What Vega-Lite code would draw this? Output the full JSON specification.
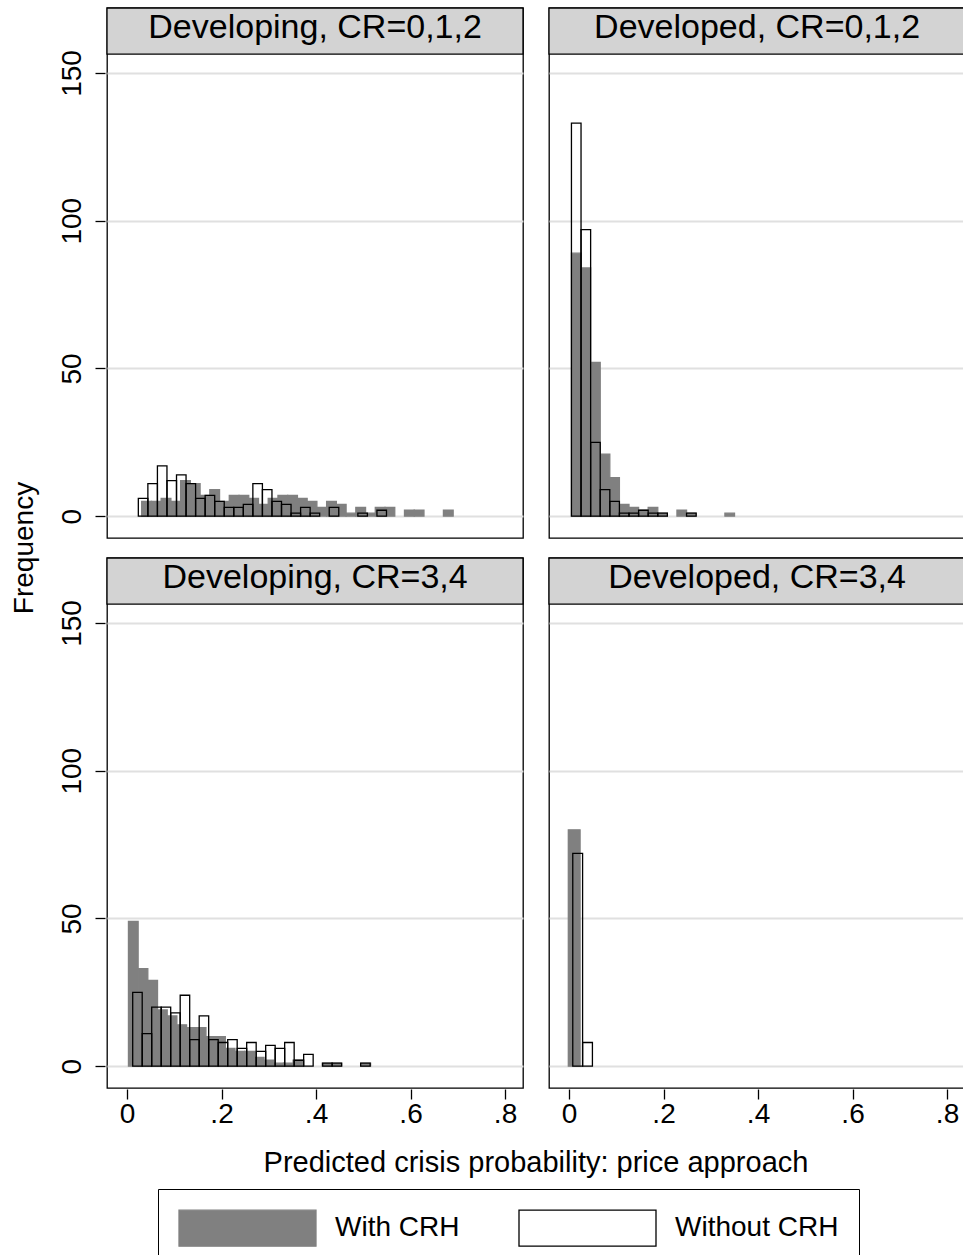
{
  "$schema": "https://vega.github.io/schema/vega-lite/v6.json",
  "background": "white",
  "padding": {"left": 10, "top": 6, "right": 0, "bottom": 0},
  "data": {"values": [
    {"dev":"Developing","cr":"CR=0,1,2","panel":"Developing, CR=0,1,2","series":"With CRH","x0":0.0310,"x1":0.0516,"n":5},
    {"dev":"Developing","cr":"CR=0,1,2","panel":"Developing, CR=0,1,2","series":"With CRH","x0":0.0516,"x1":0.0722,"n":5},
    {"dev":"Developing","cr":"CR=0,1,2","panel":"Developing, CR=0,1,2","series":"With CRH","x0":0.0722,"x1":0.0928,"n":6},
    {"dev":"Developing","cr":"CR=0,1,2","panel":"Developing, CR=0,1,2","series":"With CRH","x0":0.0928,"x1":0.1134,"n":5},
    {"dev":"Developing","cr":"CR=0,1,2","panel":"Developing, CR=0,1,2","series":"With CRH","x0":0.1134,"x1":0.1340,"n":12},
    {"dev":"Developing","cr":"CR=0,1,2","panel":"Developing, CR=0,1,2","series":"With CRH","x0":0.1340,"x1":0.1546,"n":11},
    {"dev":"Developing","cr":"CR=0,1,2","panel":"Developing, CR=0,1,2","series":"With CRH","x0":0.1546,"x1":0.1752,"n":7},
    {"dev":"Developing","cr":"CR=0,1,2","panel":"Developing, CR=0,1,2","series":"With CRH","x0":0.1752,"x1":0.1958,"n":9},
    {"dev":"Developing","cr":"CR=0,1,2","panel":"Developing, CR=0,1,2","series":"With CRH","x0":0.1958,"x1":0.2164,"n":5},
    {"dev":"Developing","cr":"CR=0,1,2","panel":"Developing, CR=0,1,2","series":"With CRH","x0":0.2164,"x1":0.2370,"n":7},
    {"dev":"Developing","cr":"CR=0,1,2","panel":"Developing, CR=0,1,2","series":"With CRH","x0":0.2370,"x1":0.2576,"n":7},
    {"dev":"Developing","cr":"CR=0,1,2","panel":"Developing, CR=0,1,2","series":"With CRH","x0":0.2576,"x1":0.2782,"n":6},
    {"dev":"Developing","cr":"CR=0,1,2","panel":"Developing, CR=0,1,2","series":"With CRH","x0":0.2782,"x1":0.2988,"n":4},
    {"dev":"Developing","cr":"CR=0,1,2","panel":"Developing, CR=0,1,2","series":"With CRH","x0":0.2988,"x1":0.3194,"n":6},
    {"dev":"Developing","cr":"CR=0,1,2","panel":"Developing, CR=0,1,2","series":"With CRH","x0":0.3194,"x1":0.3400,"n":7},
    {"dev":"Developing","cr":"CR=0,1,2","panel":"Developing, CR=0,1,2","series":"With CRH","x0":0.3400,"x1":0.3606,"n":7},
    {"dev":"Developing","cr":"CR=0,1,2","panel":"Developing, CR=0,1,2","series":"With CRH","x0":0.3606,"x1":0.3812,"n":6},
    {"dev":"Developing","cr":"CR=0,1,2","panel":"Developing, CR=0,1,2","series":"With CRH","x0":0.3812,"x1":0.4018,"n":5},
    {"dev":"Developing","cr":"CR=0,1,2","panel":"Developing, CR=0,1,2","series":"With CRH","x0":0.4018,"x1":0.4224,"n":3},
    {"dev":"Developing","cr":"CR=0,1,2","panel":"Developing, CR=0,1,2","series":"With CRH","x0":0.4224,"x1":0.4430,"n":5},
    {"dev":"Developing","cr":"CR=0,1,2","panel":"Developing, CR=0,1,2","series":"With CRH","x0":0.4430,"x1":0.4636,"n":4},
    {"dev":"Developing","cr":"CR=0,1,2","panel":"Developing, CR=0,1,2","series":"With CRH","x0":0.4636,"x1":0.4842,"n":1},
    {"dev":"Developing","cr":"CR=0,1,2","panel":"Developing, CR=0,1,2","series":"With CRH","x0":0.4842,"x1":0.5048,"n":3},
    {"dev":"Developing","cr":"CR=0,1,2","panel":"Developing, CR=0,1,2","series":"With CRH","x0":0.5048,"x1":0.5254,"n":1},
    {"dev":"Developing","cr":"CR=0,1,2","panel":"Developing, CR=0,1,2","series":"With CRH","x0":0.5254,"x1":0.5460,"n":3},
    {"dev":"Developing","cr":"CR=0,1,2","panel":"Developing, CR=0,1,2","series":"With CRH","x0":0.5460,"x1":0.5666,"n":3},
    {"dev":"Developing","cr":"CR=0,1,2","panel":"Developing, CR=0,1,2","series":"With CRH","x0":0.5872,"x1":0.6078,"n":2},
    {"dev":"Developing","cr":"CR=0,1,2","panel":"Developing, CR=0,1,2","series":"With CRH","x0":0.6078,"x1":0.6284,"n":2},
    {"dev":"Developing","cr":"CR=0,1,2","panel":"Developing, CR=0,1,2","series":"With CRH","x0":0.6696,"x1":0.6902,"n":2},

    {"dev":"Developed","cr":"CR=0,1,2","panel":"Developed, CR=0,1,2","series":"With CRH","x0":0.0051,"x1":0.0254,"n":89},
    {"dev":"Developed","cr":"CR=0,1,2","panel":"Developed, CR=0,1,2","series":"With CRH","x0":0.0254,"x1":0.0457,"n":84},
    {"dev":"Developed","cr":"CR=0,1,2","panel":"Developed, CR=0,1,2","series":"With CRH","x0":0.0457,"x1":0.0660,"n":52},
    {"dev":"Developed","cr":"CR=0,1,2","panel":"Developed, CR=0,1,2","series":"With CRH","x0":0.0660,"x1":0.0863,"n":21},
    {"dev":"Developed","cr":"CR=0,1,2","panel":"Developed, CR=0,1,2","series":"With CRH","x0":0.0863,"x1":0.1066,"n":13},
    {"dev":"Developed","cr":"CR=0,1,2","panel":"Developed, CR=0,1,2","series":"With CRH","x0":0.1066,"x1":0.1269,"n":4},
    {"dev":"Developed","cr":"CR=0,1,2","panel":"Developed, CR=0,1,2","series":"With CRH","x0":0.1269,"x1":0.1472,"n":3},
    {"dev":"Developed","cr":"CR=0,1,2","panel":"Developed, CR=0,1,2","series":"With CRH","x0":0.1472,"x1":0.1675,"n":2},
    {"dev":"Developed","cr":"CR=0,1,2","panel":"Developed, CR=0,1,2","series":"With CRH","x0":0.1675,"x1":0.1878,"n":3},
    {"dev":"Developed","cr":"CR=0,1,2","panel":"Developed, CR=0,1,2","series":"With CRH","x0":0.1878,"x1":0.2081,"n":1},
    {"dev":"Developed","cr":"CR=0,1,2","panel":"Developed, CR=0,1,2","series":"With CRH","x0":0.2284,"x1":0.2487,"n":2},
    {"dev":"Developed","cr":"CR=0,1,2","panel":"Developed, CR=0,1,2","series":"With CRH","x0":0.2487,"x1":0.2690,"n":1},
    {"dev":"Developed","cr":"CR=0,1,2","panel":"Developed, CR=0,1,2","series":"With CRH","x0":0.3299,"x1":0.3502,"n":1},

    {"dev":"Developing","cr":"CR=3,4","panel":"Developing, CR=3,4","series":"With CRH","x0":0.0030,"x1":0.0235,"n":49},
    {"dev":"Developing","cr":"CR=3,4","panel":"Developing, CR=3,4","series":"With CRH","x0":0.0235,"x1":0.0440,"n":33},
    {"dev":"Developing","cr":"CR=3,4","panel":"Developing, CR=3,4","series":"With CRH","x0":0.0440,"x1":0.0645,"n":29},
    {"dev":"Developing","cr":"CR=3,4","panel":"Developing, CR=3,4","series":"With CRH","x0":0.0645,"x1":0.0850,"n":19},
    {"dev":"Developing","cr":"CR=3,4","panel":"Developing, CR=3,4","series":"With CRH","x0":0.0850,"x1":0.1055,"n":17},
    {"dev":"Developing","cr":"CR=3,4","panel":"Developing, CR=3,4","series":"With CRH","x0":0.1055,"x1":0.1260,"n":14},
    {"dev":"Developing","cr":"CR=3,4","panel":"Developing, CR=3,4","series":"With CRH","x0":0.1260,"x1":0.1465,"n":13},
    {"dev":"Developing","cr":"CR=3,4","panel":"Developing, CR=3,4","series":"With CRH","x0":0.1465,"x1":0.1670,"n":13},
    {"dev":"Developing","cr":"CR=3,4","panel":"Developing, CR=3,4","series":"With CRH","x0":0.1670,"x1":0.1875,"n":10},
    {"dev":"Developing","cr":"CR=3,4","panel":"Developing, CR=3,4","series":"With CRH","x0":0.1875,"x1":0.2080,"n":10},
    {"dev":"Developing","cr":"CR=3,4","panel":"Developing, CR=3,4","series":"With CRH","x0":0.2080,"x1":0.2285,"n":6},
    {"dev":"Developing","cr":"CR=3,4","panel":"Developing, CR=3,4","series":"With CRH","x0":0.2285,"x1":0.2490,"n":5},
    {"dev":"Developing","cr":"CR=3,4","panel":"Developing, CR=3,4","series":"With CRH","x0":0.2490,"x1":0.2695,"n":5},
    {"dev":"Developing","cr":"CR=3,4","panel":"Developing, CR=3,4","series":"With CRH","x0":0.2695,"x1":0.2900,"n":3},
    {"dev":"Developing","cr":"CR=3,4","panel":"Developing, CR=3,4","series":"With CRH","x0":0.2900,"x1":0.3105,"n":2},
    {"dev":"Developing","cr":"CR=3,4","panel":"Developing, CR=3,4","series":"With CRH","x0":0.3105,"x1":0.3310,"n":1},
    {"dev":"Developing","cr":"CR=3,4","panel":"Developing, CR=3,4","series":"With CRH","x0":0.3310,"x1":0.3515,"n":1},
    {"dev":"Developing","cr":"CR=3,4","panel":"Developing, CR=3,4","series":"With CRH","x0":0.3515,"x1":0.3720,"n":2},
    {"dev":"Developing","cr":"CR=3,4","panel":"Developing, CR=3,4","series":"With CRH","x0":0.4130,"x1":0.4335,"n":1},
    {"dev":"Developing","cr":"CR=3,4","panel":"Developing, CR=3,4","series":"With CRH","x0":0.4335,"x1":0.4540,"n":1},
    {"dev":"Developing","cr":"CR=3,4","panel":"Developing, CR=3,4","series":"With CRH","x0":0.4950,"x1":0.5155,"n":1},

    {"dev":"Developed","cr":"CR=3,4","panel":"Developed, CR=3,4","series":"With CRH","x0":-0.0015,"x1":0.0234,"n":80},

    {"dev":"Developing","cr":"CR=0,1,2","panel":"Developing, CR=0,1,2","series":"Without CRH","x0":0.0239,"x1":0.0441,"n":6},
    {"dev":"Developing","cr":"CR=0,1,2","panel":"Developing, CR=0,1,2","series":"Without CRH","x0":0.0441,"x1":0.0643,"n":11},
    {"dev":"Developing","cr":"CR=0,1,2","panel":"Developing, CR=0,1,2","series":"Without CRH","x0":0.0643,"x1":0.0845,"n":17},
    {"dev":"Developing","cr":"CR=0,1,2","panel":"Developing, CR=0,1,2","series":"Without CRH","x0":0.0845,"x1":0.1047,"n":12},
    {"dev":"Developing","cr":"CR=0,1,2","panel":"Developing, CR=0,1,2","series":"Without CRH","x0":0.1047,"x1":0.1249,"n":14},
    {"dev":"Developing","cr":"CR=0,1,2","panel":"Developing, CR=0,1,2","series":"Without CRH","x0":0.1249,"x1":0.1451,"n":11},
    {"dev":"Developing","cr":"CR=0,1,2","panel":"Developing, CR=0,1,2","series":"Without CRH","x0":0.1451,"x1":0.1653,"n":6},
    {"dev":"Developing","cr":"CR=0,1,2","panel":"Developing, CR=0,1,2","series":"Without CRH","x0":0.1653,"x1":0.1855,"n":7},
    {"dev":"Developing","cr":"CR=0,1,2","panel":"Developing, CR=0,1,2","series":"Without CRH","x0":0.1855,"x1":0.2057,"n":5},
    {"dev":"Developing","cr":"CR=0,1,2","panel":"Developing, CR=0,1,2","series":"Without CRH","x0":0.2057,"x1":0.2259,"n":3},
    {"dev":"Developing","cr":"CR=0,1,2","panel":"Developing, CR=0,1,2","series":"Without CRH","x0":0.2259,"x1":0.2461,"n":3},
    {"dev":"Developing","cr":"CR=0,1,2","panel":"Developing, CR=0,1,2","series":"Without CRH","x0":0.2461,"x1":0.2663,"n":4},
    {"dev":"Developing","cr":"CR=0,1,2","panel":"Developing, CR=0,1,2","series":"Without CRH","x0":0.2663,"x1":0.2865,"n":11},
    {"dev":"Developing","cr":"CR=0,1,2","panel":"Developing, CR=0,1,2","series":"Without CRH","x0":0.2865,"x1":0.3067,"n":9},
    {"dev":"Developing","cr":"CR=0,1,2","panel":"Developing, CR=0,1,2","series":"Without CRH","x0":0.3067,"x1":0.3269,"n":5},
    {"dev":"Developing","cr":"CR=0,1,2","panel":"Developing, CR=0,1,2","series":"Without CRH","x0":0.3269,"x1":0.3471,"n":4},
    {"dev":"Developing","cr":"CR=0,1,2","panel":"Developing, CR=0,1,2","series":"Without CRH","x0":0.3471,"x1":0.3673,"n":1},
    {"dev":"Developing","cr":"CR=0,1,2","panel":"Developing, CR=0,1,2","series":"Without CRH","x0":0.3673,"x1":0.3875,"n":3},
    {"dev":"Developing","cr":"CR=0,1,2","panel":"Developing, CR=0,1,2","series":"Without CRH","x0":0.3875,"x1":0.4077,"n":1},
    {"dev":"Developing","cr":"CR=0,1,2","panel":"Developing, CR=0,1,2","series":"Without CRH","x0":0.4279,"x1":0.4481,"n":3},
    {"dev":"Developing","cr":"CR=0,1,2","panel":"Developing, CR=0,1,2","series":"Without CRH","x0":0.4885,"x1":0.5087,"n":1},
    {"dev":"Developing","cr":"CR=0,1,2","panel":"Developing, CR=0,1,2","series":"Without CRH","x0":0.5289,"x1":0.5491,"n":2},

    {"dev":"Developed","cr":"CR=0,1,2","panel":"Developed, CR=0,1,2","series":"Without CRH","x0":0.0051,"x1":0.0254,"n":133},
    {"dev":"Developed","cr":"CR=0,1,2","panel":"Developed, CR=0,1,2","series":"Without CRH","x0":0.0254,"x1":0.0457,"n":97},
    {"dev":"Developed","cr":"CR=0,1,2","panel":"Developed, CR=0,1,2","series":"Without CRH","x0":0.0457,"x1":0.0660,"n":25},
    {"dev":"Developed","cr":"CR=0,1,2","panel":"Developed, CR=0,1,2","series":"Without CRH","x0":0.0660,"x1":0.0863,"n":9},
    {"dev":"Developed","cr":"CR=0,1,2","panel":"Developed, CR=0,1,2","series":"Without CRH","x0":0.0863,"x1":0.1066,"n":5},
    {"dev":"Developed","cr":"CR=0,1,2","panel":"Developed, CR=0,1,2","series":"Without CRH","x0":0.1066,"x1":0.1269,"n":1},
    {"dev":"Developed","cr":"CR=0,1,2","panel":"Developed, CR=0,1,2","series":"Without CRH","x0":0.1269,"x1":0.1472,"n":1},
    {"dev":"Developed","cr":"CR=0,1,2","panel":"Developed, CR=0,1,2","series":"Without CRH","x0":0.1472,"x1":0.1675,"n":2},
    {"dev":"Developed","cr":"CR=0,1,2","panel":"Developed, CR=0,1,2","series":"Without CRH","x0":0.1675,"x1":0.1878,"n":1},
    {"dev":"Developed","cr":"CR=0,1,2","panel":"Developed, CR=0,1,2","series":"Without CRH","x0":0.1878,"x1":0.2081,"n":1},
    {"dev":"Developed","cr":"CR=0,1,2","panel":"Developed, CR=0,1,2","series":"Without CRH","x0":0.2487,"x1":0.2690,"n":1},

    {"dev":"Developing","cr":"CR=3,4","panel":"Developing, CR=3,4","series":"Without CRH","x0":0.0120,"x1":0.0321,"n":25},
    {"dev":"Developing","cr":"CR=3,4","panel":"Developing, CR=3,4","series":"Without CRH","x0":0.0321,"x1":0.0522,"n":11},
    {"dev":"Developing","cr":"CR=3,4","panel":"Developing, CR=3,4","series":"Without CRH","x0":0.0522,"x1":0.0723,"n":20},
    {"dev":"Developing","cr":"CR=3,4","panel":"Developing, CR=3,4","series":"Without CRH","x0":0.0723,"x1":0.0924,"n":20},
    {"dev":"Developing","cr":"CR=3,4","panel":"Developing, CR=3,4","series":"Without CRH","x0":0.0924,"x1":0.1125,"n":18},
    {"dev":"Developing","cr":"CR=3,4","panel":"Developing, CR=3,4","series":"Without CRH","x0":0.1125,"x1":0.1326,"n":24},
    {"dev":"Developing","cr":"CR=3,4","panel":"Developing, CR=3,4","series":"Without CRH","x0":0.1326,"x1":0.1527,"n":9},
    {"dev":"Developing","cr":"CR=3,4","panel":"Developing, CR=3,4","series":"Without CRH","x0":0.1527,"x1":0.1728,"n":17},
    {"dev":"Developing","cr":"CR=3,4","panel":"Developing, CR=3,4","series":"Without CRH","x0":0.1728,"x1":0.1929,"n":9},
    {"dev":"Developing","cr":"CR=3,4","panel":"Developing, CR=3,4","series":"Without CRH","x0":0.1929,"x1":0.2130,"n":8},
    {"dev":"Developing","cr":"CR=3,4","panel":"Developing, CR=3,4","series":"Without CRH","x0":0.2130,"x1":0.2331,"n":9},
    {"dev":"Developing","cr":"CR=3,4","panel":"Developing, CR=3,4","series":"Without CRH","x0":0.2331,"x1":0.2532,"n":6},
    {"dev":"Developing","cr":"CR=3,4","panel":"Developing, CR=3,4","series":"Without CRH","x0":0.2532,"x1":0.2733,"n":8},
    {"dev":"Developing","cr":"CR=3,4","panel":"Developing, CR=3,4","series":"Without CRH","x0":0.2733,"x1":0.2934,"n":5},
    {"dev":"Developing","cr":"CR=3,4","panel":"Developing, CR=3,4","series":"Without CRH","x0":0.2934,"x1":0.3135,"n":7},
    {"dev":"Developing","cr":"CR=3,4","panel":"Developing, CR=3,4","series":"Without CRH","x0":0.3135,"x1":0.3336,"n":6},
    {"dev":"Developing","cr":"CR=3,4","panel":"Developing, CR=3,4","series":"Without CRH","x0":0.3336,"x1":0.3537,"n":8},
    {"dev":"Developing","cr":"CR=3,4","panel":"Developing, CR=3,4","series":"Without CRH","x0":0.3537,"x1":0.3738,"n":2},
    {"dev":"Developing","cr":"CR=3,4","panel":"Developing, CR=3,4","series":"Without CRH","x0":0.3738,"x1":0.3939,"n":4},
    {"dev":"Developing","cr":"CR=3,4","panel":"Developing, CR=3,4","series":"Without CRH","x0":0.4140,"x1":0.4341,"n":1},
    {"dev":"Developing","cr":"CR=3,4","panel":"Developing, CR=3,4","series":"Without CRH","x0":0.4341,"x1":0.4542,"n":1},
    {"dev":"Developing","cr":"CR=3,4","panel":"Developing, CR=3,4","series":"Without CRH","x0":0.4944,"x1":0.5145,"n":1},

    {"dev":"Developed","cr":"CR=3,4","panel":"Developed, CR=3,4","series":"Without CRH","x0":0.0079,"x1":0.0287,"n":72},
    {"dev":"Developed","cr":"CR=3,4","panel":"Developed, CR=3,4","series":"Without CRH","x0":0.0287,"x1":0.0495,"n":8}
  ]},
  "facet": {
    "row": {"field": "cr", "type": "nominal", "sort": ["CR=0,1,2", "CR=3,4"], "title": "Frequency",
            "header": {"labels": false, "titleOrient": "left", "titleFontSize": 28, "titleFontWeight": "normal", "titleColor": "black", "titlePadding": 8}},
    "column": {"field": "dev", "type": "nominal", "sort": ["Developing", "Developed"], "title": "Predicted crisis probability: price approach",
            "header": {"labels": false, "titleOrient": "bottom", "titleFontSize": 29, "titleFontWeight": "normal", "titleColor": "black", "titlePadding": 11}}
  },
  "spacing": {"row": 17, "column": 22},
  "spec": {
    "width": 416,
    "height": 530,
    "layer": [
      {
        "mark": {"type": "bar", "strokeWidth": 1.3},
        "encoding": {
          "x": {"field": "x0", "type": "quantitative", "title": null,
                "scale": {"domain": [-0.0424, 0.838], "nice": false, "zero": false},
                "axis": {"values": [0, 0.2, 0.4, 0.6, 0.8], "labelExpr": "datum.value == 0 ? '0' : replace(format(datum.value, '.1f'), '0.', '.')", "grid": false, "labelFlush": false, "tickSize": 10, "labelPadding": 1}},
          "x2": {"field": "x1"},
          "y": {"field": "n", "type": "quantitative", "title": null,
                "scale": {"domain": [-7.4, 172], "nice": false, "zero": false},
                "axis": {"values": [0, 50, 100, 150], "labelAngle": -90, "labelAlign": "center", "labelBaseline": "bottom", "grid": true, "gridColor": "#e0e0e0", "gridWidth": 2, "tickSize": 10, "labelPadding": 9}},
          "y2": {"datum": 0},
          "fill": {"field": "series", "type": "nominal",
                   "scale": {"domain": ["With CRH", "Without CRH"], "range": ["#808080", "transparent"]},
                   "legend": {"title": null, "orient": "none", "legendX": 51, "legendY": 1181, "direction": "horizontal", "columns": 2,
                              "symbolType": "M-1,-1L6.611,-1L6.611,1L-1,1Z", "symbolSize": 1296,
                              "symbolStrokeWidth": 1.3, "labelFontSize": 28, "labelOffset": 119, "columnPadding": 56,
                              "padding": 20, "strokeColor": "black", "labelLimit": 400}},
          "stroke": {"field": "series", "type": "nominal",
                     "scale": {"domain": ["With CRH", "Without CRH"], "range": ["#808080", "black"]},
                     "legend": {"title": null, "orient": "none", "legendX": 51, "legendY": 1181, "direction": "horizontal", "columns": 2,
                              "symbolType": "M-1,-1L6.611,-1L6.611,1L-1,1Z", "symbolSize": 1296,
                              "symbolStrokeWidth": 1.3, "labelFontSize": 28, "labelOffset": 119, "columnPadding": 56,
                              "padding": 20, "strokeColor": "black", "labelLimit": 400}}
        }
      },
      {
        "transform": [{"aggregate": [{"op": "count", "as": "cnt"}], "groupby": ["panel", "dev", "cr"]}],
        "mark": {"type": "rect", "fill": "#d3d3d3", "stroke": "black", "strokeWidth": 1.3},
        "encoding": {
          "x": {"datum": -0.0424, "type": "quantitative"},
          "x2": {"datum": 0.838},
          "y": {"datum": 156.4, "type": "quantitative"},
          "y2": {"datum": 172}
        }
      },
      {
        "transform": [{"aggregate": [{"op": "count", "as": "cnt"}], "groupby": ["panel", "dev", "cr"]}],
        "mark": {"type": "text", "fontSize": 34, "baseline": "middle", "align": "center", "color": "black"},
        "encoding": {
          "x": {"datum": 0.398, "type": "quantitative"},
          "y": {"datum": 165.2, "type": "quantitative"},
          "text": {"field": "panel", "type": "nominal"}
        }
      }
    ]
  },
  "config": {
    "font": "Liberation Sans",
    "view": {"stroke": "black", "strokeWidth": 1.3},
    "axis": {"labelFontSize": 28, "titleFontSize": 28, "titleFontWeight": "normal", "labelColor": "black", "titleColor": "black", "tickColor": "black", "tickWidth": 1.3, "domain": false},
    "legend": {"labelColor": "black"}
  }
}
